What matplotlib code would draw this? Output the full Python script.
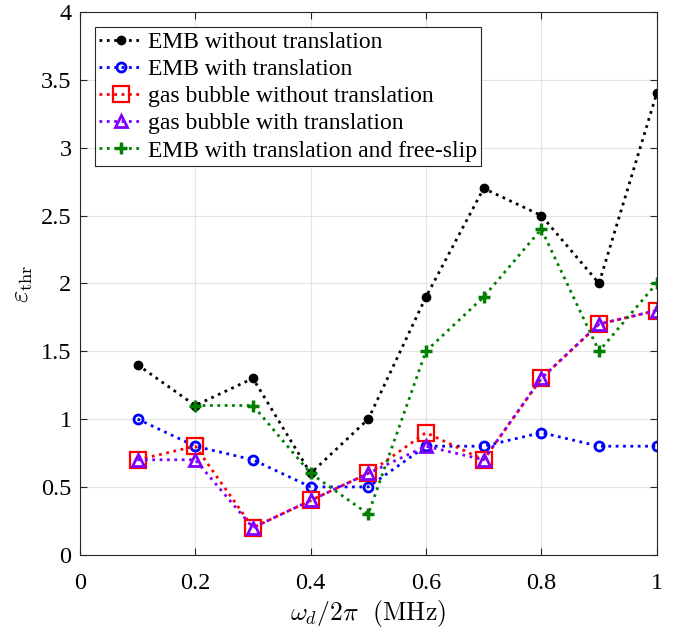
import matplotlib.pyplot as plt

plt.rcParams["font.family"] = ["Liberation Serif", "DejaVu Serif"]
plt.rcParams["mathtext.fontset"] = "cm"

freq = [0.1, 0.2, 0.3, 0.4, 0.5, 0.6, 0.7, 0.8, 0.9, 1.0]
freq_slip = [0.2, 0.3, 0.4, 0.5, 0.6, 0.7, 0.8, 0.9, 1.0]

emb_fixed = [1.4, 1.1, 1.3, 0.6, 1.0, 1.9, 2.7, 2.5, 2.0, 3.4]
emb_trans = [1.0, 0.8, 0.7, 0.5, 0.5, 0.8, 0.8, 0.9, 0.8, 0.8]
gas_fixed = [0.7, 0.8, 0.2, 0.4, 0.6, 0.9, 0.7, 1.3, 1.7, 1.8]
gas_trans = [0.7, 0.7, 0.2, 0.4, 0.6, 0.8, 0.7, 1.3, 1.7, 1.8]
emb_slip = [1.1, 1.1, 0.6, 0.3, 1.5, 1.9, 2.4, 1.5, 2.0]

fig = plt.figure(figsize=(6.77, 6.29), dpi=100)
ax = fig.add_axes([0.118, 0.118, 0.852, 0.863])

lw = 2.0
ax.plot(freq, emb_fixed, ":", color="black", lw=lw, marker="o", ms=6,
        mfc="black", label="EMB without translation")
ax.plot(freq, emb_trans, ":", color="blue", lw=lw, marker="o", ms=6.5,
        mfc="none", mew=2, label="EMB with translation")
ax.plot(freq, gas_fixed, ":", color="red", lw=lw, marker="s", ms=11,
        mfc="none", mew=1.6, label="gas bubble without translation")
ax.plot(freq, gas_trans, ":", color="#8000ff", lw=lw, marker="^", ms=9,
        mfc="none", mew=2, label="gas bubble with translation")
ax.plot(freq_slip, emb_slip, ":", color="#008000", lw=lw, marker="+", ms=8,
        mew=2.5, label="EMB with translation and free-slip")

ax.set_xlim(0, 1)
ax.set_ylim(0, 4)
ax.set_xticks([0, 0.2, 0.4, 0.6, 0.8, 1])
ax.set_xticklabels(["0", "0.2", "0.4", "0.6", "0.8", "1"])
ax.set_yticks([0, 0.5, 1, 1.5, 2, 2.5, 3, 3.5, 4])
ax.set_yticklabels(["0", "0.5", "1", "1.5", "2", "2.5", "3", "3.5", "4"])
ax.tick_params(direction="in", top=True, right=True, labelsize=17.5,
               length=5, color="#262626")
ax.tick_params(axis="x", pad=13)
ax.tick_params(axis="y", pad=6)
ax.grid(True, color="#e3e3e3", lw=0.8)
ax.set_axisbelow(True)
for sp in ax.spines.values():
    sp.set_color("#262626")
    sp.set_linewidth(0.8)

ax.set_xlabel(r"$\omega_d/2\pi\ \ \mathrm{(MHz)}$", fontsize=18.5, labelpad=3)
ax.set_ylabel(r"$\varepsilon_{\mathrm{thr}}$", fontsize=19, labelpad=4)

leg = ax.legend(loc="upper left", fontsize=17, fancybox=False,
                edgecolor="#262626", framealpha=1, handlelength=1.85,
                borderaxespad=0.62, labelspacing=0.24, handletextpad=0.2,
                borderpad=0.2)
leg.get_frame().set_linewidth(0.8)

fig.savefig("out.png", dpi=100)
